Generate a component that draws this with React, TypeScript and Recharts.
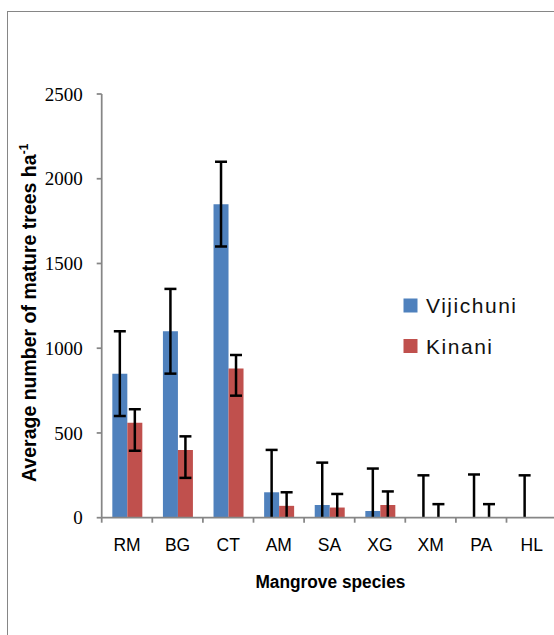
import React from "react"
import { BarChart, Bar, XAxis, YAxis, Legend } from "recharts"

const species = ["RM", "BG", "CT", "AM", "SA", "XG", "XM", "PA", "HL"]
const vijichuni = [850, 1100, 1850, 150, 75, 40, 0, 0, 0]
const vijichuniSe = [250, 250, 250, 250, 250, 250, 250, 255, 250]
const kinani = [560, 400, 880, 70, 60, 75, 0, 0, 0]
// Kinani whiskers are uneven: below / above the bar top
const kinaniSeLow = [165, 165, 160, 165, 165, 165, 165, 165, null]
const kinaniSeHigh = [80, 80, 80, 80, 80, 80, 80, 80, null]
const yTicks = [0, 500, 1000, 1500, 2000, 2500]

const BLUE = "#4F81BD"
const RED = "#C0504D"
const AXIS = "#868686"
const SANS = "'Liberation Sans', Arial, sans-serif"

// whiskers are drawn as range bars [low, high] on a hidden twin x axis,
// so they land in the same slots as the real bars
const data = species.map((s, i) => ({
  species: s,
  Vijichuni: vijichuni[i],
  Kinani: kinani[i],
  vRange: [vijichuni[i] - vijichuniSe[i], vijichuni[i] + vijichuniSe[i]],
  kRange:
    kinaniSeHigh[i] == null
      ? null
      : [kinani[i] - (kinaniSeLow[i] as number), kinani[i] + (kinaniSeHigh[i] as number)],
}))

function Whisker(props: any) {
  const { x, y, width, height } = props
  if (height == null || isNaN(height)) return null
  const cx = x + width / 2
  const cap = 6
  return (
    <g stroke="#000" strokeWidth={2.5}>
      <line x1={cx} x2={cx} y1={y} y2={y + height} />
      <line x1={cx - cap} x2={cx + cap} y1={y} y2={y} />
      <line x1={cx - cap} x2={cx + cap} y1={y + height} y2={y + height} />
    </g>
  )
}

// category label plus an Excel-style tick on the left edge of each band
function SpeciesTick(props: any) {
  const { x, y, payload } = props
  const half = payload.offset ?? 25.3
  return (
    <g>
      <line x1={x - half} x2={x - half} y1={y} y2={y + 5} stroke={AXIS} strokeWidth={1.75} />
      <text x={x} y={y + 33.5} textAnchor="middle" fontFamily={SANS} fontSize={17.5} fill="#000">
        {payload.value}
      </text>
    </g>
  )
}

const yTitle = (props: any) => {
  const vb = props.viewBox
  const cy = vb.y + vb.height / 2 + 7
  return (
    <text
      transform={`translate(${vb.x + 35.7}, ${cy}) rotate(-90)`}
      textAnchor="middle"
      fontFamily={SANS}
      fontWeight={700}
      fontSize={19.5}
      fill="#000"
    >
      Average number of mature trees ha
      <tspan fontSize={12} dy={-8}>-1</tspan>
    </text>
  )
}

const xTitle = (props: any) => {
  const vb = props.viewBox
  return (
    <text
      x={vb.x + vb.width / 2 + 1}
      y={vb.y + 70.5}
      textAnchor="middle"
      fontFamily={SANS}
      fontWeight={700}
      fontSize={17.5}
      textLength={150}
      lengthAdjust="spacingAndGlyphs"
      fill="#000"
    >
      Mangrove species
    </text>
  )
}

function SeriesKey() {
  const items = [
    { name: "Vijichuni", color: BLUE, len: 90 },
    { name: "Kinani", color: RED, len: 66 },
  ]
  return (
    <svg width={145} height={64} style={{ display: "block", overflow: "visible" }}>
      {items.map((it, i) => (
        <g key={it.name} transform={`translate(0, ${i * 40.5})`}>
          <rect x={0.5} y={0.5} width={14} height={14} fill={it.color} />
          <text
            x={23}
            y={15}
            fontFamily={SANS}
            fontSize={21}
            textLength={it.len}
            lengthAdjust="spacing"
            fill="#111"
          >
            {it.name}
          </text>
        </g>
      ))}
    </svg>
  )
}

export default function App() {
  return (
    <div
      style={{
        position: "absolute",
        left: 0,
        top: 0,
        width: 554,
        height: 635,
        overflow: "hidden",
        background: "#fff",
      }}
    >
      <div
        style={{
          position: "absolute",
          left: 7,
          top: 11,
          width: 620,
          height: 700,
          border: `1.5px solid ${AXIS}`,
        }}
      />
      <div style={{ position: "absolute", left: 0, top: 0 }}>
        <BarChart
          width={620}
          height={635}
          data={data}
          margin={{ top: 94, right: 62.9, bottom: 77.3, left: 0 }}
          barGap={0}
          barCategoryGap="21%"
        >
          <XAxis
            dataKey="species"
            height={40}
            axisLine={{ stroke: AXIS, strokeWidth: 1.75 }}
            tickLine={false}
            tickSize={0}
            tickMargin={0}
            tick={<SpeciesTick />}
            interval={0}
            label={xTitle}
          />
          <XAxis xAxisId="whisker" dataKey="species" hide />
          <YAxis
            width={101.7}
            domain={[0, 2500]}
            ticks={yTicks}
            allowDataOverflow
            axisLine={{ stroke: AXIS, strokeWidth: 1.75 }}
            tickLine={{ stroke: AXIS, strokeWidth: 1.75 }}
            tickSize={5}
            tickMargin={14}
            tick={{ fill: "#000", fontFamily: "'Liberation Serif', 'Times New Roman', serif", fontSize: 19 }}
            label={yTitle}
          />
          <Legend
            layout="vertical"
            align="center"
            verticalAlign="middle"
            content={() => <SeriesKey />}
            wrapperStyle={{ left: 402.5, top: 298, width: 145, height: 64 }}
          />
          <Bar dataKey="Vijichuni" fill={BLUE} isAnimationActive={false} />
          <Bar dataKey="Kinani" fill={RED} isAnimationActive={false} />
          <Bar
            xAxisId="whisker"
            dataKey="vRange"
            shape={<Whisker />}
            legendType="none"
            isAnimationActive={false}
          />
          <Bar
            xAxisId="whisker"
            dataKey="kRange"
            shape={<Whisker />}
            legendType="none"
            isAnimationActive={false}
          />
        </BarChart>
      </div>
    </div>
  )
}
